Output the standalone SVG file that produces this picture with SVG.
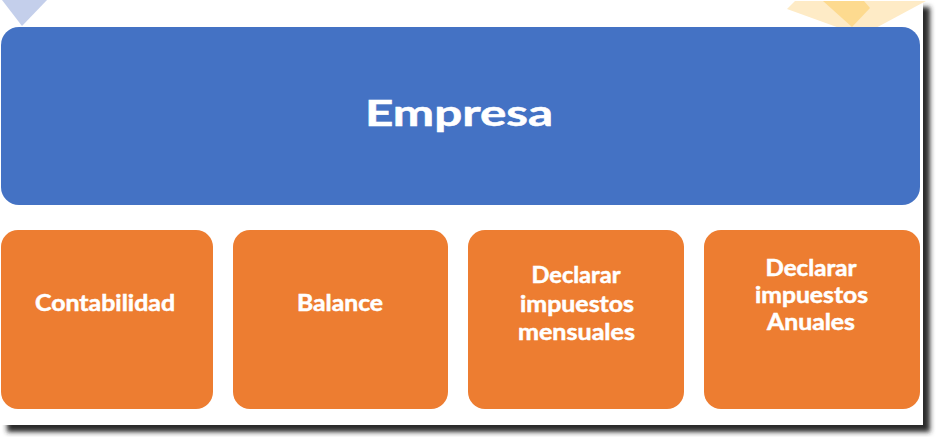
<svg xmlns="http://www.w3.org/2000/svg" width="938" height="437" viewBox="0 0 938 437">
  <defs>
    <filter id="sh" x="-5%" y="-5%" width="110%" height="115%">
      <feGaussianBlur stdDeviation="2.5"/>
    </filter>
    <style>
      .blue { fill: #4472C4; }
      .orange { fill: #ED7D31; }
      .t { font-family: Lato, "Open Sans", "Liberation Sans", sans-serif; font-weight: bold; fill: #FFFFFF; stroke: #FFFFFF; stroke-width: 0.5px; text-anchor: middle; }
      .sub { font-size: 22px; }
    </style>
  </defs>
  <rect x="0" y="0" width="938" height="437" fill="#FFFFFF"/>
  <!-- card shadow -->
  <rect x="7" y="7" width="923" height="425" fill="#2a2a2a" filter="url(#sh)"/>
  <rect x="0" y="0" width="923" height="425" fill="#FFFFFF"/>
  <!-- decorative triangles -->
  <polygon points="2,0 47,0 22,26" fill="#C4CFEB"/>
  <polygon points="795,1 926,1 872,30 845,30 787,9" fill="#FEEBC6"/>
  <polygon points="823,1 864,1 870,8 852,27" fill="#FDDA8F"/>

  <g id="empresa">
    <rect class="blue" x="1" y="27" width="919" height="178" rx="18" ry="18"/>
    <text class="t" x="459" y="126" font-size="36" stroke-width="0.8" textLength="188" lengthAdjust="spacingAndGlyphs">Empresa</text>
  </g>
  <g id="contabilidad">
    <rect class="orange" x="1" y="230" width="212" height="179" rx="17" ry="17"/>
    <text class="t sub" x="105" y="310.5" textLength="140" lengthAdjust="spacingAndGlyphs">Contabilidad</text>
  </g>
  <g id="balance">
    <rect class="orange" x="233" y="230" width="215" height="179" rx="17" ry="17"/>
    <text class="t sub" x="340" y="310.5" textLength="86" lengthAdjust="spacingAndGlyphs">Balance</text>
  </g>
  <g id="mensuales">
    <rect class="orange" x="468" y="230" width="216" height="179" rx="17" ry="17"/>
    <text class="t sub" x="576" y="283" textLength="89" lengthAdjust="spacingAndGlyphs">Declarar</text>
    <text class="t sub" x="577" y="311.5" textLength="114" lengthAdjust="spacingAndGlyphs">impuestos</text>
    <text class="t sub" x="576.5" y="340" textLength="117" lengthAdjust="spacingAndGlyphs">mensuales</text>
  </g>
  <g id="anuales">
    <rect class="orange" x="704" y="230" width="216" height="179" rx="17" ry="17"/>
    <text class="t sub" x="811" y="275.5" textLength="91" lengthAdjust="spacingAndGlyphs">Declarar</text>
    <text class="t sub" x="811.5" y="302.5" textLength="113" lengthAdjust="spacingAndGlyphs">impuestos</text>
    <text class="t sub" x="811" y="329.5" textLength="88" lengthAdjust="spacingAndGlyphs">Anuales</text>
  </g>
  <g id="connectors"/>
</svg>
